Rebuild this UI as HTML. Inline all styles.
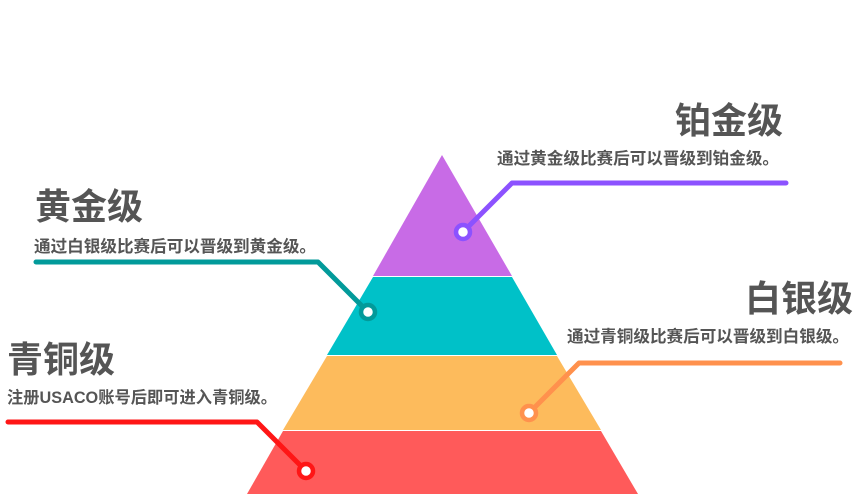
<!DOCTYPE html>
<html><head><meta charset="utf-8"><style>
html,body{margin:0;padding:0;background:#fff;width:858px;height:501px;overflow:hidden}
svg{display:block}
text{font-family:"Liberation Sans","Noto Sans CJK SC",sans-serif;font-weight:bold;fill:#555}
</style></head><body>
<svg width="858" height="501" viewBox="0 0 858 501">
<polygon points="442,155 512,276 373,276" fill="#c86be6"/>
<polygon points="373,277 512,277 557,355 327,355" fill="#00c1c8"/>
<polygon points="327,356 557,356 601,430 283,430" fill="#fdbb5c"/>
<polygon points="283,431 601,431 638,494 247,494" fill="#ff5a5a"/>
<g fill="none" stroke-width="5" stroke-linecap="round" stroke-linejoin="round">
<polyline points="463,232 512,183 786,183" stroke="#8c52ff"/>
<polyline points="36,262 318,262 368,312" stroke="#029a9a"/>
<polyline points="529,413 579,363 840,363" stroke="#ff914d"/>
<polyline points="8,422 257,422 306,471" stroke="#ff1616"/>
</g>
<g fill="#fff" stroke-width="4.5">
<circle cx="463" cy="232" r="7" stroke="#8c52ff"/>
<circle cx="368" cy="312" r="7" stroke="#029a9a"/>
<circle cx="529" cy="413" r="7" stroke="#ff914d"/>
<circle cx="306" cy="471" r="7" stroke="#ff1616"/>
</g>
<text x="783" y="133" font-size="36" text-anchor="end">铂金级</text>
<text x="779" y="164" font-size="16.5" text-anchor="end" textLength="282" lengthAdjust="spacingAndGlyphs">通过黄金级比赛后可以晋级到铂金级。</text>
<text x="35" y="219" font-size="36">黄金级</text>
<text x="34" y="252" font-size="16.5" textLength="282" lengthAdjust="spacingAndGlyphs">通过白银级比赛后可以晋级到黄金级。</text>
<text x="853" y="311" font-size="36" text-anchor="end">白银级</text>
<text x="849" y="342" font-size="16.5" text-anchor="end" textLength="282" lengthAdjust="spacingAndGlyphs">通过青铜级比赛后可以晋级到白银级。</text>
<text x="7" y="372" font-size="36">青铜级</text>
<text x="7" y="403" font-size="16.5" textLength="270" lengthAdjust="spacingAndGlyphs">注册USACO账号后即可进入青铜级。</text>
</svg>
</body></html>
